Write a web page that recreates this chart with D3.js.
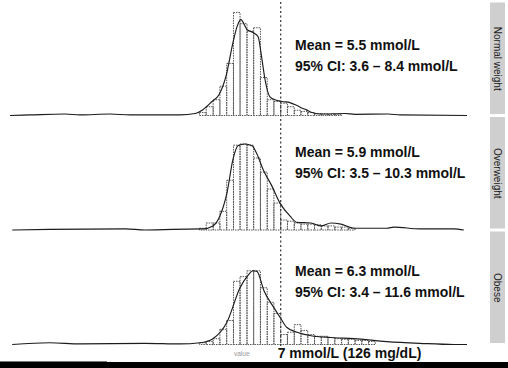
<!DOCTYPE html>
<html><head><meta charset="utf-8">
<script src="https://cdn.jsdelivr.net/npm/d3@7"></script>
<style>html,body{margin:0;padding:0;background:#fff;} svg{display:block;}</style>
</head><body>
<svg id="chart" width="508" height="368"></svg>
<script>
// Facets: BMI groups with mean and 95% CI of fasting glucose (mmol/L)
const groups = ["Normal weight", "Overweight", "Obese"];
const means = [5.5, 5.9, 6.3];
const ciLow = [3.6, 3.5, 3.4];
const ciHigh = [8.4, 10.3, 11.6];
const threshold = 7;
const thresholdLabel = "7 mmol/L (126 mg/dL)";
const axisStub = "value";

// Histogram bin lower edges (mmol/L, log-spaced); each bar ends at the next edge
const binStarts = [3.05, 3.27, 3.51, 3.76, 4.03, 4.32, 4.62, 4.96, 5.31, 5.69,
  6.10, 6.53, 7.00, 7.50, 8.04, 8.61, 9.23, 9.89, 10.60, 11.35,
  12.17, 13.04, 13.97, 14.97, 16.04, 17.18, 18.41, 19.72, 21.13];

// Share of participants per bin (%)
const normalPct = [0.5, 1.5, 2.7, 5.0, 8.9, 17.6, 15.7, 14.4, 15.0, 6.5,
  2.7, 2.4, 2.1, 1.5, 0.9, 0.7, 0.5, 0.3, 0.3, 0.2, 0.2];
const overweightPct = [0.3, 1.2, 1.2, 3.2, 8.5, 14.5, 14.7, 14.5, 12.3, 9.9,
  7.0, 4.6, 1.7, 1.5, 1.2, 1.0, 1.0, 0.9, 0.7, 0.7, 0.5, 0.5, 0.3];
const obesePct = [0.3, 0.5, 1.0, 2.6, 4.1, 10.8, 11.6, 12.6, 12.6, 9.7,
  7.2, 5.3, 1.7, 2.1, 3.4, 2.4, 1.7, 1.4, 1.4, 1.2, 1.0, 0.9, 0.9, 0.7,
  0.7, 0.5];

// Smoothed density outlines: [mmol/L, %]
const normalCurve = [[0.44, 0], [0.54, 0.1], [0.77, 0.25], [0.90, 0.1], [1.22, 0.25],
  [1.50, 0.1], [2.50, 0.1], [2.92, 0.35], [3.16, 1.0], [3.47, 2.4], [3.73, 3.6],
  [4.00, 6.7], [4.30, 12.5], [4.48, 15.2], [4.66, 16.4], [4.96, 14.7], [5.27, 14.2],
  [5.55, 13.5], [5.78, 9.6], [5.96, 6.2], [6.27, 3.2], [6.60, 2.7], [7.09, 2.4],
  [7.69, 2.2], [8.27, 1.7], [8.79, 1.2], [9.06, 1.0], [9.63, 0.5], [10.45, 0.25],
  [13.5, 0.35], [14.96, 0.2], [20.95, 0.25], [23.7, 0.1], [47, 0]];
const overweightCurve = [[0.45, 0], [0.66, 0.1], [1.43, 0.2], [1.75, 0], [3.07, 0.2],
  [3.16, 0.2], [3.50, 0.7], [3.76, 2.4], [4.04, 6.3], [4.30, 12.1], [4.52, 14.4],
  [4.86, 14.7], [5.22, 14.4], [5.49, 13.0], [5.84, 10.4], [6.40, 7.5], [6.95, 4.6],
  [7.69, 2.4], [8.27, 1.3], [9.54, 1.2], [10.56, 0.7], [11.70, 1.2], [12.96, 1.0],
  [14.8, 0.3], [20.7, 0.3], [22.3, 0.5], [29.1, 0.2], [41.1, 0.2], [45.5, 0]];
const obeseCurve = [[0.45, 0], [0.66, 0.3], [0.90, 0.1], [1.75, 0.2], [2.50, 0.1],
  [3.07, 0.3], [3.50, 1.0], [4.04, 3.8], [4.62, 9.7], [5.01, 11.8], [5.27, 12.6],
  [5.49, 12.5], [5.90, 9.2], [6.53, 6.3], [7.02, 4.4], [7.46, 2.9], [8.27, 2.1],
  [9.54, 1.5], [11.70, 1.2], [14.8, 1.0], [20.7, 0.5], [29.1, 0.2], [41.1, 0], [47, 0]];

const bars = [normalPct, overweightPct, obesePct];
const curves = [normalCurve, overweightCurve, obeseCurve];

const svg = d3.select("#chart");
const fontFamily = "'Liberation Sans', Arial, sans-serif";

const x = d3.scaleLog().domain([0.44, 47]).range([10, 467]);
const panel = d3.scaleBand().domain(groups).range([1.5, 345]).paddingInner(0);
const bw = panel.bandwidth();

groups.forEach((g, gi) => {
  const top = panel(g);
  const base = top + bw - 0.5;
  const y = d3.scaleLinear().domain([0, 18]).range([base, base - 105.3]);
  const gp = svg.append("g");

  // histogram bars
  gp.selectAll("rect.bar").data(bars[gi]).join("rect")
    .attr("class", "bar")
    .attr("x", (d, i) => x(binStarts[i]))
    .attr("width", (d, i) => x(binStarts[i + 1]) - x(binStarts[i]))
    .attr("y", d => y(d))
    .attr("height", d => y(0) - y(d))
    .attr("fill", "none")
    .attr("stroke", "#555")
    .attr("stroke-width", 1)
    .attr("stroke-dasharray", "1.5,1");

  // density outline
  const line = d3.line().x(d => x(d[0])).y(d => y(d[1])).curve(d3.curveMonotoneX);
  gp.append("path").datum(curves[gi]).attr("d", line)
    .attr("fill", "none").attr("stroke", "#1c1c1c").attr("stroke-width", 1.15);

  // facet strip
  gp.append("rect").attr("x", 490).attr("y", top + 1).attr("width", 15).attr("height", bw - 3)
    .attr("fill", "#cfcfcf");
  gp.append("text")
    .attr("transform", `translate(494,${top + bw / 2}) rotate(90)`)
    .attr("text-anchor", "middle")
    .attr("font-family", fontFamily).attr("font-size", 10)
    .attr("fill", "#1a1a1a").text(g);

  // annotation
  const ty = [50, 157, 276][gi];
  const ann = gp.append("text").attr("font-family", fontFamily).attr("font-size", 14)
    .attr("font-weight", "bold").attr("fill", "#111");
  ann.append("tspan").attr("x", 295).attr("y", ty).text(`Mean = ${means[gi]} mmol/L`);
  ann.append("tspan").attr("x", 295).attr("y", ty + 21)
    .text(`95% CI: ${ciLow[gi]} \u2013 ${ciHigh[gi]} mmol/L`);
});

// 7 mmol/L reference line across all facets
svg.append("line")
  .attr("x1", x(threshold)).attr("x2", x(threshold))
  .attr("y1", 2).attr("y2", 347)
  .attr("stroke", "#333").attr("stroke-width", 1.2).attr("stroke-dasharray", "2,2.5");

svg.append("text").attr("x", x(threshold) - 3).attr("y", 358)
  .attr("font-family", fontFamily).attr("font-size", 14).attr("font-weight", "bold")
  .attr("fill", "#111").text(thresholdLabel);

svg.append("text").attr("x", 234).attr("y", 356)
  .attr("font-family", fontFamily).attr("font-size", 6.5).attr("fill", "#999").text(axisStub);

// bottom rule
svg.append("rect").attr("x", 0).attr("y", 362).attr("width", 508).attr("height", 6).attr("fill", "#000");
svg.append("rect").attr("x", 0).attr("y", 361).attr("width", 107).attr("height", 1).attr("fill", "#777");
</script>
</body></html>
